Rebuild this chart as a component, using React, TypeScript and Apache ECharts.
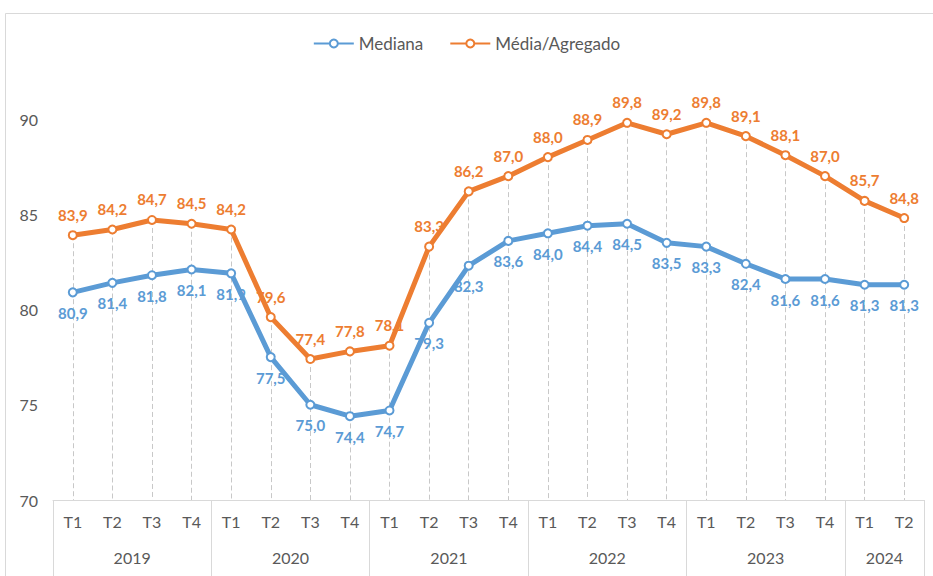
import React, { useEffect, useRef } from "react";
import * as echarts from "echarts";

const quarters = ["T1","T2","T3","T4","T1","T2","T3","T4","T1","T2","T3","T4","T1","T2","T3","T4","T1","T2","T3","T4","T1","T2"];
const years = ["2019", "2020", "2021", "2022", "2023", "2024"];
const yearCenters = [2, 6, 10, 14, 18, 21];
const yearBounds = [0, 4, 8, 12, 16, 20, 22];
const mediana = [80.9, 81.4, 81.8, 82.1, 81.9, 77.5, 75.0, 74.4, 74.7, 79.3, 82.3, 83.6, 84.0, 84.4, 84.5, 83.5, 83.3, 82.4, 81.6, 81.6, 81.3, 81.3];
const media = [83.9, 84.2, 84.7, 84.5, 84.2, 79.6, 77.4, 77.8, 78.1, 83.3, 86.2, 87.0, 88.0, 88.9, 89.8, 89.2, 89.8, 89.1, 88.1, 87.0, 85.7, 84.8];
const yMin = 70;
const yMax = 90;
const yStep = 5;

const BLUE = "#5B9BD5";
const ORANGE = "#ED7D31";
const GREY_TEXT = "#595959";
const FONT = "Lato, 'Open Sans', sans-serif";

const fmt = (v: number) => v.toFixed(1).replace(".", ",");

export default function App() {
  const ref = useRef<HTMLDivElement>(null);
  useEffect(() => {
    if (!ref.current) return;
    const chart = echarts.init(ref.current, null, { renderer: "svg" });
    const dropLines = media.map((v, i) => [
      { coord: [i, Math.max(v, mediana[i])] },
      { coord: [i, yMin] },
    ]);
    chart.setOption({
      animation: false,
      textStyle: { fontFamily: FONT },
      graphic: [
        {
          type: "rect",
          shape: { x: 5.5, y: 13.5, width: 960, height: 600 },
          style: { fill: "none", stroke: "#d9d9d9", lineWidth: 1 },
          silent: true,
        },
      ],
      legend: {
        top: 30,
        left: "center",
        itemWidth: 40,
        itemHeight: 10,
        itemGap: 26,
        textStyle: { color: GREY_TEXT, fontSize: 17, fontFamily: FONT },
        data: ["Mediana", "Média/Agregado"],
      },
      grid: { left: 53, right: 9, top: 119, bottom: 76, containLabel: false },
      xAxis: [
        {
          type: "category",
          data: quarters,
          position: "bottom",
          boundaryGap: true,
          axisLine: { show: true, lineStyle: { color: "#d9d9d9", width: 1 } },
          axisTick: { show: false },
          axisLabel: { color: GREY_TEXT, fontSize: 16, margin: 13, fontFamily: FONT, interval: 0 },
          splitLine: { show: false },
        },
        {
          type: "value",
          position: "bottom",
          min: 0,
          max: 22,
          axisLine: { show: false },
          axisTick: {
            show: true,
            length: 76,
            customValues: yearBounds,
            lineStyle: { color: "#d9d9d9", width: 1 },
          },
          axisLabel: {
            show: true,
            customValues: yearCenters,
            color: GREY_TEXT,
            fontSize: 16,
            margin: 49,
            fontFamily: FONT,
            formatter: (v: number) => years[yearCenters.indexOf(v)] ?? "",
          },
          splitLine: { show: false },
        },
      ],
      yAxis: {
        type: "value",
        min: yMin,
        max: yMax,
        interval: yStep,
        axisLine: { show: false },
        axisTick: { show: false },
        splitLine: { show: false },
        axisLabel: { color: GREY_TEXT, fontSize: 16, margin: 15, fontFamily: FONT },
      },
      series: [
        {
          name: "Mediana",
          type: "line",
          data: mediana,
          color: BLUE,
          lineStyle: { width: 5, color: BLUE },
          symbol: "emptyCircle",
          symbolSize: 8,
          itemStyle: { color: BLUE, borderWidth: 2, borderColor: BLUE },
          label: {
            show: true,
            position: "bottom",
            distance: 8,
            color: BLUE,
            fontSize: 15,
            fontWeight: "bold",
            fontFamily: FONT,
            formatter: (p: any) => fmt(p.value),
          },
          markLine: {
            silent: true,
            symbol: ["none", "none"],
            label: { show: false },
            lineStyle: { color: "#c8c8c8", type: [5, 3], width: 1 },
            data: dropLines,
            z: 1,
          },
          z: 3,
        },
        {
          name: "Média/Agregado",
          type: "line",
          data: media,
          color: ORANGE,
          lineStyle: { width: 5, color: ORANGE },
          symbol: "emptyCircle",
          symbolSize: 8,
          itemStyle: { color: ORANGE, borderWidth: 2, borderColor: ORANGE },
          label: {
            show: true,
            position: "top",
            distance: 8,
            color: ORANGE,
            fontSize: 15,
            fontWeight: "bold",
            fontFamily: FONT,
            formatter: (p: any) => fmt(p.value),
          },
          z: 4,
        },
      ],
    });
    return () => chart.dispose();
  }, []);
  return (
    <div
      ref={ref}
      style={{ position: "fixed", left: 0, top: 0, width: 933, height: 576, background: "#fff" }}
    />
  );
}
